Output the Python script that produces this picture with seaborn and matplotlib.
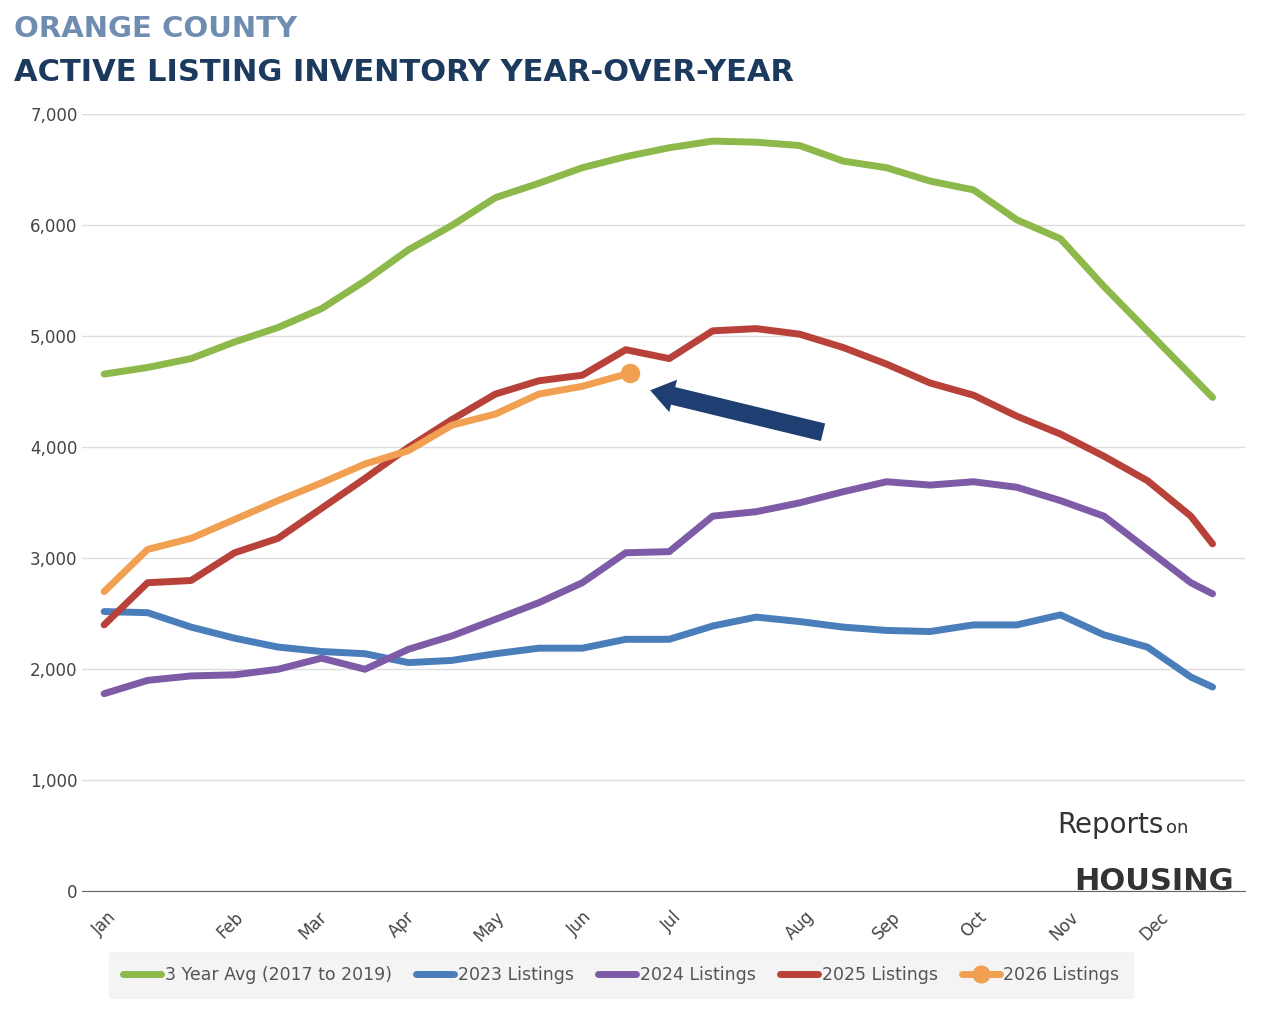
import pandas as pd
import matplotlib.pyplot as plt
import seaborn as sns
from matplotlib.lines import Line2D

# x positions are in weeks from start of January
weeks = [0, 2, 4, 6, 8, 10, 12, 14, 16, 18, 20, 22, 24, 26, 28, 30, 32, 34, 36, 38, 40, 42, 44, 46, 48, 50, 51]
avg_3yr = [4660, 4720, 4800, 4950, 5080, 5250, 5500, 5780, 6000, 6250, 6380, 6520, 6620, 6700, 6760, 6750, 6720,
           6580, 6520, 6400, 6320, 6050, 5880, 5450, 5050, 4650, 4450]
listings_2023 = [2520, 2510, 2380, 2280, 2200, 2160, 2140, 2060, 2080, 2140, 2190, 2190, 2270, 2270, 2390, 2470, 2430,
                 2380, 2350, 2340, 2400, 2400, 2490, 2310, 2200, 1930, 1840]
listings_2024 = [1780, 1900, 1940, 1950, 2000, 2100, 2000, 2180, 2300, 2450, 2600, 2780, 3050, 3060, 3380, 3420, 3500,
                 3600, 3690, 3660, 3690, 3640, 3520, 3380, 3080, 2780, 2680]
listings_2025 = [2400, 2780, 2800, 3050, 3180, 3450, 3720, 4000, 4250, 4480, 4600, 4650, 4880, 4800, 5050, 5070, 5020,
                 4900, 4750, 4580, 4470, 4280, 4120, 3920, 3700, 3380, 3130]
weeks_2026 = [0, 2, 4, 6, 8, 10, 12, 14, 16, 18, 20, 22, 24.2]
listings_2026 = [2700, 3080, 3180, 3350, 3520, 3680, 3850, 3970, 4200, 4300, 4480, 4550, 4670]

month_labels = ["Jan", "Feb", "Mar", "Apr", "May", "Jun", "Jul", "Aug", "Sep", "Oct", "Nov", "Dec"]
month_pos = [0, 5.8, 9.6, 13.7, 17.7, 21.9, 26.1, 32, 36, 40, 44.2, 48.3]

series = [
    ("3 Year Avg (2017 to 2019)", weeks, avg_3yr, "#8db84a"),
    ("2023 Listings", weeks, listings_2023, "#4a7ebb"),
    ("2024 Listings", weeks, listings_2024, "#7d5ba6"),
    ("2025 Listings", weeks, listings_2025, "#b8423a"),
    ("2026 Listings", weeks_2026, listings_2026, "#f0a050"),
]

sns.set_style("white")
plt.rcParams['font.family'] = ['DejaVu Sans']

fig = plt.figure(figsize=(12.68, 10.22), dpi=100)
ax = fig.add_axes([0.065, 0.128, 0.917, 0.76])

for name, xs, ys, color in series:
    df = pd.DataFrame({"x": xs, "y": ys})
    sns.lineplot(data=df, x="x", y="y", ax=ax, color=color, lw=5, legend=False,
                 solid_joinstyle="round", solid_capstyle="round")
# end marker for 2026
ax.plot(weeks_2026[-1], listings_2026[-1], "o", color="#f0a050", markersize=13, zorder=5)

ax.annotate("", xy=(25.0, 4520), xytext=(33.2, 4130),
            arrowprops=dict(arrowstyle="simple,head_width=2.4,head_length=1.7,tail_width=1.3",
                            color="#1f3f73", lw=0))

ax.set_xlim(-1, 52.5)
ax.set_ylim(0, 7000)
ax.set_yticks(range(0, 7001, 1000))
ax.set_yticklabels([f"{v:,}" for v in range(0, 7001, 1000)], color="#444", fontsize=12)
ax.set_xticks(month_pos)
ax.set_xticklabels(month_labels, rotation=45, color="#444", fontsize=12, ha="center")
ax.tick_params(length=0, axis="x", pad=12)
ax.tick_params(length=0, axis="y")
ax.grid(axis="y", color="#dddddd", lw=1)
for s in ["top", "right", "left"]:
    ax.spines[s].set_visible(False)
ax.spines["bottom"].set_color("#666")
ax.set_xlabel("")
ax.set_ylabel("")

handles = [Line2D([], [], color=c, lw=5, marker="o" if n.startswith("2026") else None, markersize=12)
           for n, _, _, c in series]
leg = fig.legend(handles, [s[0] for s in series], loc="lower center", bbox_to_anchor=(0.49, 0.015),
                 ncol=5, frameon=True, fontsize=12.5, handlelength=2.2, columnspacing=1.4,
                 handletextpad=0.2, borderpad=0.8)
leg.get_frame().set_facecolor("#f2f2f2")
leg.get_frame().set_edgecolor("#f2f2f2")
for t in leg.get_texts():
    t.set_color("#555")

fig.text(0.011, 0.972, "ORANGE COUNTY", fontsize=21, fontweight="bold", color="#6f8db0", va="center")
fig.text(0.011, 0.929, "ACTIVE LISTING INVENTORY YEAR-OVER-YEAR", fontsize=22, fontweight="bold",
         color="#1c3a5e", va="center")

ax.text(0.93, 0.075, "Reports", transform=ax.transAxes, fontsize=20, color="#333", ha="right")
ax.text(0.932, 0.075, "on", transform=ax.transAxes, fontsize=13, color="#333", ha="left")
ax.text(0.99, 0.002, "HOUSING", transform=ax.transAxes, fontsize=22, color="#333", ha="right",
        fontweight="bold")

fig.savefig("out.png", dpi=100)
